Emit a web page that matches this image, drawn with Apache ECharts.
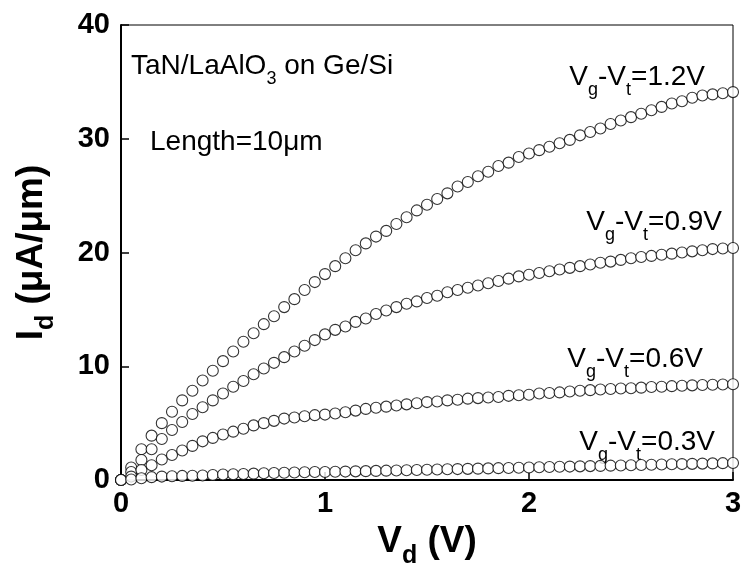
<!DOCTYPE html>
<html>
<head>
<meta charset="utf-8">
<script src="https://cdn.jsdelivr.net/npm/echarts@6/dist/echarts.min.js"></script>
<style>
  html, body { margin: 0; padding: 0; background: #fff; }
  #chart { width: 745px; height: 577px; }
</style>
</head>
<body>
<div id="chart"></div>
<script>
// drain voltage steps (V)
const vd = [0, 0.05, 0.1, 0.15, 0.2, 0.25, 0.3, 0.35, 0.4, 0.45, 0.5, 0.55, 0.6, 0.65, 0.7, 0.75, 0.8, 0.85, 0.9, 0.95,
  1, 1.05, 1.1, 1.15, 1.2, 1.25, 1.3, 1.35, 1.4, 1.45, 1.5, 1.55, 1.6, 1.65, 1.7, 1.75, 1.8, 1.85, 1.9, 1.95,
  2, 2.05, 2.1, 2.15, 2.2, 2.25, 2.3, 2.35, 2.4, 2.45, 2.5, 2.55, 2.6, 2.65, 2.7, 2.75, 2.8, 2.85, 2.9, 2.95, 3]

// drain current (uA/um) for each gate overdrive
const id12 = [0, 1.1, 2.7, 3.9, 5.0, 6.0, 7.0, 7.85, 8.75, 9.6, 10.45, 11.3, 12.15, 12.9, 13.7, 14.4, 15.2, 15.9, 16.7, 17.4,
  18.1, 18.8, 19.5, 20.2, 20.8, 21.4, 21.9, 22.5, 23.1, 23.7, 24.2, 24.7, 25.2, 25.8, 26.2, 26.7, 27.1, 27.6, 27.9, 28.4,
  28.7, 29.0, 29.3, 29.6, 29.9, 30.3, 30.6, 30.9, 31.3, 31.6, 31.9, 32.2, 32.5, 32.8, 33.1, 33.3, 33.6, 33.8, 33.9, 34.0, 34.1]
const id09 = [0, 0.7, 1.76, 2.7, 3.6, 4.4, 5.1, 5.8, 6.4, 7.0, 7.6, 8.2, 8.7, 9.3, 9.8, 10.3, 10.8, 11.3, 11.8, 12.3,
  12.8, 13.2, 13.5, 13.9, 14.2, 14.6, 14.9, 15.2, 15.5, 15.7, 16.0, 16.2, 16.5, 16.7, 16.9, 17.1, 17.3, 17.5, 17.7, 17.9,
  18.05, 18.2, 18.35, 18.5, 18.65, 18.8, 18.95, 19.1, 19.2, 19.35, 19.5, 19.6, 19.7, 19.8, 19.9, 20.0, 20.1, 20.2, 20.3, 20.35, 20.4]
const id06 = [0, 0.3, 0.88, 1.3, 1.8, 2.2, 2.6, 3.0, 3.4, 3.7, 4.0, 4.25, 4.5, 4.8, 5.0, 5.2, 5.4, 5.5, 5.6, 5.7,
  5.75, 5.85, 5.95, 6.1, 6.25, 6.35, 6.45, 6.55, 6.65, 6.75, 6.85, 6.9, 7.0, 7.05, 7.15, 7.2, 7.25, 7.3, 7.4, 7.45,
  7.5, 7.6, 7.65, 7.7, 7.78, 7.85, 7.9, 7.95, 8.0, 8.05, 8.07, 8.12, 8.17, 8.2, 8.25, 8.28, 8.32, 8.35, 8.38, 8.4, 8.42]
const id03 = [0, 0.05, 0.15, 0.25, 0.3, 0.33, 0.36, 0.38, 0.4, 0.44, 0.48, 0.5, 0.53, 0.56, 0.59, 0.62, 0.64, 0.66, 0.68, 0.7,
  0.7, 0.72, 0.74, 0.76, 0.78, 0.8, 0.82, 0.84, 0.86, 0.88, 0.9, 0.92, 0.94, 0.96, 0.98, 1.0, 1.02, 1.04, 1.06, 1.08,
  1.1, 1.12, 1.14, 1.16, 1.18, 1.2, 1.22, 1.24, 1.26, 1.28, 1.3, 1.32, 1.34, 1.36, 1.38, 1.4, 1.42, 1.44, 1.46, 1.48, 1.5]

const seriesNames = ['1.2V', '0.9V', '0.6V', '0.3V']
const seriesData = [id12, id09, id06, id03]

const FONT = '"Liberation Sans", Arial, sans-serif'

const chart = echarts.init(document.getElementById('chart'))

// rich styles for subscripts
const annoRich = {
  n: { fontSize: 28, fontFamily: FONT, color: '#000' },
  s: { fontSize: 18, fontFamily: FONT, color: '#000', padding: [26, 0, 0, 0] }
}
const titleRich = {
  n: { fontSize: 37, fontWeight: 'bold', fontFamily: FONT, color: '#000' },
  s: { fontSize: 25, fontWeight: 'bold', fontFamily: FONT, color: '#000', padding: [30, 0, 0, 0] }
}

function vgLabel(v) {
  return '{n|V}{s|g}{n|-V}{s|t}{n|=' + v + '}'
}

const option = {
  backgroundColor: '#fff',
  animation: false,
  grid: {
    left: 121, right: 12, top: 25, bottom: 97,
    show: true, borderColor: '#000', borderWidth: 1
  },
  xAxis: {
    type: 'value', min: 0, max: 3, interval: 1,
    name: '{n|V}{s|d}{n| (V)}',
    nameLocation: 'middle', nameGap: 33,
    nameTextStyle: { rich: titleRich },
    axisLine: { lineStyle: { color: '#000', width: 2 } },
    axisTick: { inside: true, length: 8, lineStyle: { color: '#000', width: 1.5 } },
    axisLabel: { color: '#000', fontSize: 29, fontWeight: 'bold', fontFamily: FONT, margin: 9 },
    splitLine: { show: false }
  },
  yAxis: {
    type: 'value', min: 0, max: 40, interval: 10,
    name: '{n|I}{s|d}{n| (μA/μm)}',
    nameLocation: 'middle', nameGap: 62, nameRotate: 90,
    nameTextStyle: { rich: titleRich },
    axisLine: { lineStyle: { color: '#000', width: 2 } },
    axisTick: { inside: true, length: 8, lineStyle: { color: '#000', width: 1.5 } },
    axisLabel: { color: '#000', fontSize: 29, fontWeight: 'bold', fontFamily: FONT, margin: 11 },
    splitLine: { show: false }
  },
  series: seriesData.map((d, i) => ({
    name: seriesNames[i],
    type: 'scatter',
    symbol: 'circle',
    symbolSize: 11,
    clip: false,
    itemStyle: { color: '#fff', borderColor: '#000', borderWidth: 1.1 },
    data: vd.map((x, j) => [x, d[j]])
  })),
  graphic: [
    { type: 'text', left: 131, top: 52,
      style: { text: '{n|TaN/LaAlO}{s|3}{n| on Ge/Si}', rich: annoRich } },
    { type: 'text', left: 150, top: 128,
      style: { text: '{n|Length=10μm}', rich: annoRich } },
    { type: 'text', right: 40, top: 63,
      style: { text: vgLabel('1.2V'), rich: annoRich } },
    { type: 'text', right: 23, top: 208,
      style: { text: vgLabel('0.9V'), rich: annoRich } },
    { type: 'text', right: 42, top: 345,
      style: { text: vgLabel('0.6V'), rich: annoRich } },
    { type: 'text', right: 30, top: 428,
      style: { text: vgLabel('0.3V'), rich: annoRich } }
  ]
}

chart.setOption(option)
</script>
</body>
</html>
